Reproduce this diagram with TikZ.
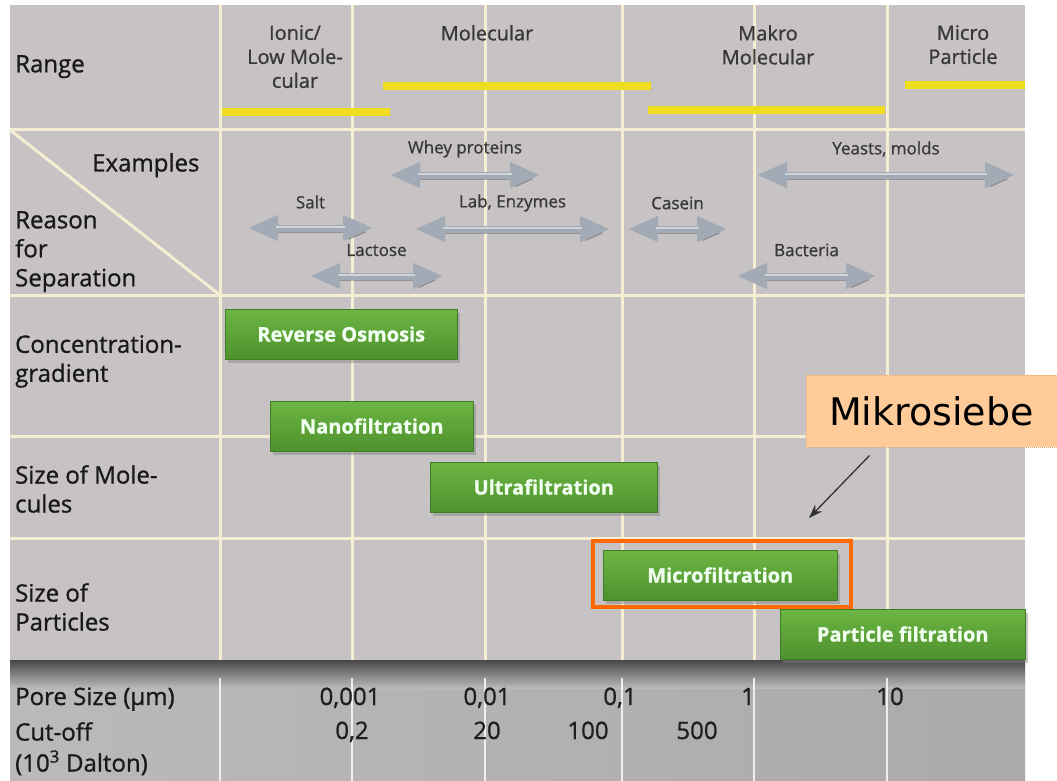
\documentclass[tikz,border=0pt]{standalone}
\usepackage{fontspec}
\setmainfont{Open Sans}[FakeBold=0.9]
\newfontfamily\calloutfont{DejaVu Sans}
\usetikzlibrary{arrows.meta,positioning,shadows}

\definecolor{chartbg}{HTML}{C7C2C3}
\definecolor{gridcream}{HTML}{F5EED2}
\definecolor{rangeyellow}{HTML}{F1DD1F}
\definecolor{boxgreenlight}{HTML}{6DB544}
\definecolor{boxgreendark}{HTML}{4D922D}
\definecolor{silver}{HTML}{A2ABB5}
\definecolor{markorange}{HTML}{FF6A00}
\definecolor{calloutfill}{HTML}{FFCC99}
\definecolor{bandleft}{HTML}{BBB9B9}
\definecolor{bandright}{HTML}{ABA9A9}

\begin{document}
\begin{tikzpicture}[x=1pt,y=-1pt,
gridline/.style={draw=gridcream,line width=3pt},
rowlabel/.style={anchor=north west,align=left,inner sep=0pt,text=black!90,font=\fontsize{24}{29}\selectfont},
head/.style={anchor=north,align=center,inner sep=0pt,text=black!78,font=\fontsize{20}{24}\selectfont},
rangebar/.style={draw=rangeyellow,line width=8pt,preaction={draw=black,opacity=.2,transform canvas={shift={(1pt,-3pt)}}}},
exarrow/.style={draw=silver,line width=7pt,{Triangle[length=30pt,width=24pt]}-{Triangle[length=30pt,width=24pt]},
  preaction={draw=black,opacity=.25,transform canvas={shift={(2pt,-4pt)}}},
  postaction={draw=white,opacity=.5,line width=2pt,-,shorten <=28pt,shorten >=28pt,transform canvas={shift={(0pt,1.5pt)}}}},
exlabel/.style={midway,yshift=26pt,inner sep=0pt,text=black!78,font=\fontsize{17}{20}\selectfont},
procbox/.style={anchor=west,minimum height=50pt,inner sep=0pt,top color=boxgreenlight,bottom color=boxgreendark,
  draw=boxgreendark!85!black,line width=.5pt,drop shadow={shadow xshift=3pt,shadow yshift=-4pt,opacity=.45},
  text=white!94!green,font=\bfseries\fontsize{20}{24}\selectfont},
axisnum/.style={anchor=base,inner sep=0pt,text=black!88,font=\fontsize{24}{29}\selectfont},
pointer/.style={-{Stealth[length=14pt,width=10pt]},line width=1.3pt,draw=black!80}]

\useasboundingbox (0,0) rectangle (1057,781);

% chart area and grid
\fill[chartbg] (10,5) rectangle (1025,660);
\foreach \x in {220,352,485,622,754,887}
  \draw[gridline] (\x,5) -- (\x,660);
\foreach \y in {130,295,436,538}
  \draw[gridline] (10,\y) -- (1025,\y);
\draw[gridline] (10,130) -- (220,295);

% bottom scale band
\fill[left color=bandleft,right color=bandright] (10,660) rectangle (1025,781);
\fill[top color=black!72,bottom color=bandleft] (10,660) rectangle (1025,688);
\foreach \x in {220,352,485,622,754,887}
  \draw[white,line width=1.5pt,opacity=.8] (\x,678) -- (\x,781);

% row labels
\node[rowlabel] (range) at (15,55) {Range};
\node[rowlabel] (examples) at (92,153) {Examples};
\node[rowlabel] (reason) at (15,211) {Reason\\for\\Separation};
\node[rowlabel] (conc) at (15,335) {Concentration-\\gradient};
\node[rowlabel] (molsize) at (15,465) {Size of Mole-\\cules};
\node[rowlabel] (partsize) at (15,583) {Size of\\Particles};

% range headers
\node[head] (ionic) at (295,25) {Ionic/\\Low Mole-\\cular};
\node[head] (molecular) at (487,25) {Molecular};
\node[head] (makro) at (768,25) {Makro\\Molecular};
\node[head] (microp) at (963,25) {Micro\\Particle};

\draw[rangebar] (222,112) -- (390,112);
\draw[rangebar] (383,86) -- (651,86);
\draw[rangebar] (648,110) -- (885,110);
\draw[rangebar] (905,85) -- (1025,85);

% examples
\draw[exarrow] (390,175) -- node[exlabel] (whey) {Whey proteins} (540,175);
\draw[exarrow] (248,228) -- node[exlabel] (salt) {Salt} (373,228);
\draw[exarrow] (415,229) -- node[exlabel] (lab) {Lab, Enzymes} (610,229);
\draw[exarrow] (628,229) -- node[exlabel] (casein) {Casein} (727,229);
\draw[exarrow] (310,276) -- node[exlabel] (lactose) {Lactose} (443,276);
\draw[exarrow] (757,175) -- node[exlabel] (yeasts) {Yeasts, molds} (1015,175);
\draw[exarrow] (737,276) -- node[exlabel] (bacteria) {Bacteria} (876,276);

% separation processes
\node[procbox,minimum width=232pt] (ro) at (225,334) {Reverse Osmosis};
\node[procbox,minimum width=203pt] (nano) at (270,426) {Nanofiltration};
\node[procbox,minimum width=227pt] (ultra) at (430,487) {Ultrafiltration};
\node[procbox,minimum width=234pt] (micro) at (603,575) {Microfiltration};
\node[procbox,minimum width=245pt] (particle) at (780,634) {Particle filtration};

\draw[markorange,line width=4pt] ([xshift=-10pt,yshift=9pt]micro.north west) rectangle ([xshift=13pt,yshift=-7pt]micro.south east);

% callout
\node[fill=calloutfill,draw=calloutfill!60!brown,densely dotted,line width=1pt,minimum width=251pt,minimum height=72pt,
  font=\calloutfont\fontsize{38}{44}\selectfont] (callout) at (931.5,411) {Mikrosiebe};
\coordinate (mikrotip) at (809,518);
\draw[pointer] ([xshift=-62pt,yshift=-8pt]callout.south) -- (mikrotip);

% scale
\node[anchor=base west,inner sep=0pt,text=black!90,font=\fontsize{24}{29}\selectfont] (pore) at (15,705) {Pore Size (µm)};
\node[anchor=north west,align=left,inner sep=0pt,text=black!90,font=\fontsize{24}{31}\selectfont] (cutoff) at (15,722) {Cut-off\\(10\textsuperscript{3} Dalton)};
\node[axisnum] (p1) at (350,705) {0,001};
\node[axisnum] (p2) at (487,705) {0,01};
\node[axisnum] (p3) at (620,705) {0,1};
\node[axisnum] (p4) at (748,705) {1};
\node[axisnum] (p5) at (890,705) {10};
\node[axisnum] (c1) at (352,739) {0,2};
\node[axisnum] (c2) at (487,739) {20};
\node[axisnum] (c3) at (588,739) {100};
\node[axisnum] (c4) at (697,739) {500};
\end{tikzpicture}
\end{document}
